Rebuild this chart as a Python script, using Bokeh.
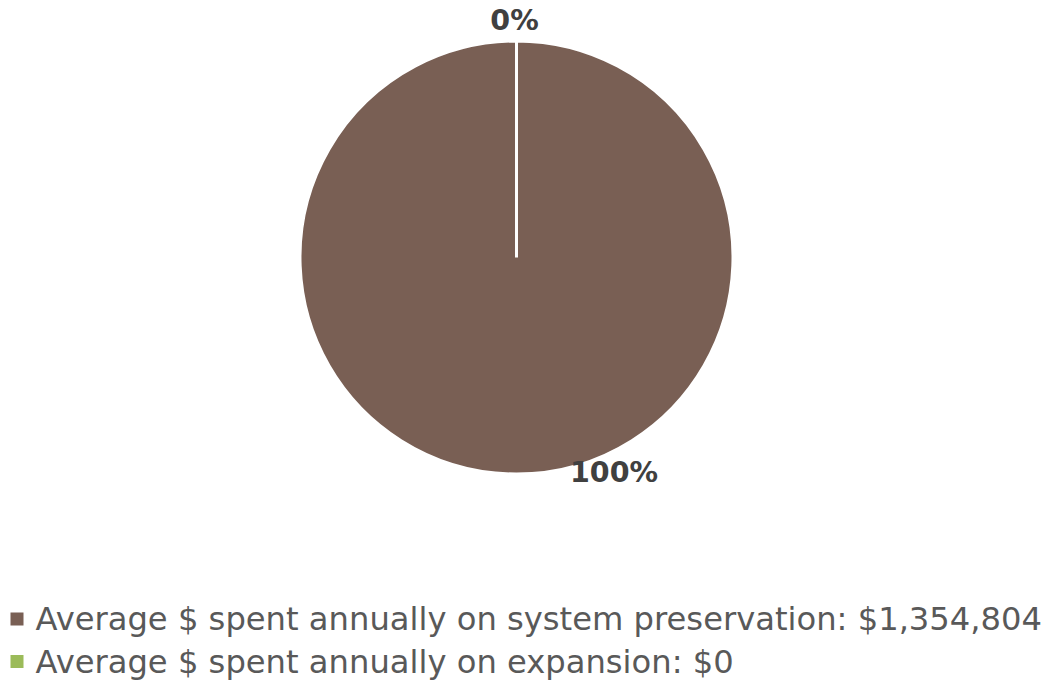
import math
from bokeh.plotting import figure
from bokeh.models import Range1d, ColumnDataSource
from bokeh.core.properties import value
from bokeh.embed import file_html
from bokeh.resources import INLINE

# ---- data ----
categories = ["Average $ spent annually on system preservation: $1,354,804",
              "Average $ spent annually on expansion: $0"]
amounts = [1354804, 0]
colors = ["#795f54", "#9bbb59"]

W, H = 1050, 683
p = figure(width=W, height=H, x_range=Range1d(0, W), y_range=Range1d(0, H),
           min_border=0, toolbar_location=None, output_backend="svg")
p.axis.visible = False
p.grid.visible = False
p.outline_line_color = None
p.background_fill_color = "white"
p.border_fill_color = "white"

def X(x):
    return x

def Y(y):
    return H - y

cx, cy, r = X(516), Y(257), 216.5
total = sum(amounts)
starts, ends, pcts = [], [], []
cum = 0.0
EPS = 1e-4  # a full 360° arc would collapse to nothing, so stop just short
for a in amounts:
    frac = a / total
    s = math.pi / 2 - cum * 2 * math.pi
    cum += frac
    span = min(frac * 2 * math.pi, 2 * math.pi - EPS)
    starts.append(s)
    ends.append(s - span)
    pcts.append(f"{round(frac * 100)}%")

# only draw slices with a non-zero size (a zero slice would render as a full disc)
idx = [i for i, a in enumerate(amounts) if a > 0]
src = ColumnDataSource(dict(x=[cx] * len(idx), y=[cy] * len(idx),
                            start=[starts[i] for i in idx],
                            end=[ends[i] for i in idx],
                            color=[colors[i] for i in idx]))
p.wedge(x="x", y="y", radius=r, radius_units="screen", start_angle="start",
        end_angle="end", direction="clock", fill_color="color",
        line_color="white", line_width=3, source=src)

# data labels (positions relative to pie centre)
label_off = [(97.5, -215), (-2, 237)]
lab_src = ColumnDataSource(dict(x=[cx + dx for dx, dy in label_off],
                                y=[cy + dy for dx, dy in label_off],
                                t=pcts))
p.text(x="x", y="y", text="t", source=lab_src, text_align="center",
       text_baseline="middle", text_font=value("DejaVu Sans"),
       text_font_style="bold", text_font_size="28.5px", text_color="#404040")

# legend
leg_y = [Y(618.5), Y(661)]
leg_src = ColumnDataSource(dict(x=[X(16.5)] * 2, tx=[X(35)] * 2, y=leg_y,
                                color=colors, t=categories))
p.scatter(x="x", y="y", marker="square", size=13, fill_color="color",
          line_color=None, source=leg_src)
p.text(x="tx", y="y", text="t", source=leg_src, text_align="left",
       text_baseline="middle", text_font=value("DejaVu Sans"),
       text_font_size="32.2px", text_color="#595959")

open("out.html", "w").write(file_html(p, INLINE))
